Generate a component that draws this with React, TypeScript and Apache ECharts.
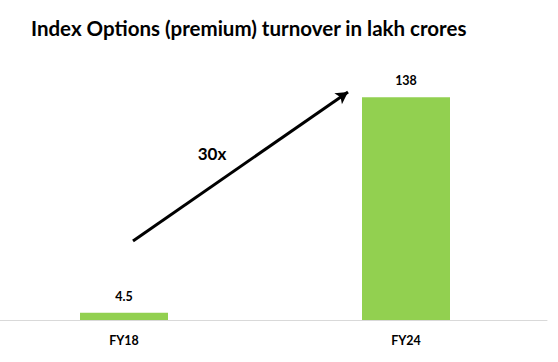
import React, { useEffect, useRef } from "react";
import * as echarts from "echarts";

const categories = ["FY18", "FY24"];
const turnover = [4.5, 138];
const titleText = "Index Options (premium) turnover in lakh crores";
const growthLabel = "30x";

const SHIFT = 17; // chart canvas starts 17px left of the page so the first category sits at x=124

export default function App() {
  const ref = useRef<HTMLDivElement>(null);
  useEffect(() => {
    if (!ref.current) return;
    const chart = echarts.init(ref.current, null, { renderer: "svg" });
    const font = "Lato, 'Open Sans', sans-serif";
    chart.setOption({
      animation: false,
      backgroundColor: "#ffffff",
      title: {
        text: titleText,
        left: 26 + SHIFT,
        top: 12,
        textStyle: { fontFamily: font, fontSize: 20.5, fontWeight: "bold", color: "#000" },
      },
      grid: { left: 0, right: 11, top: 78, bottom: 42 },
      xAxis: {
        type: "category",
        data: categories,
        axisLine: { show: true, lineStyle: { color: "#d9d9d9", width: 1 } },
        axisTick: { show: false },
        axisLabel: { margin: 14, fontFamily: font, fontSize: 12.5, fontWeight: "bold", color: "#000" },
      },
      yAxis: {
        type: "value",
        min: 0,
        max: 150,
        show: false,
        splitLine: { show: false },
      },
      series: [
        {
          type: "bar",
          data: turnover,
          barWidth: 88,
          itemStyle: { color: "#92D050" },
          label: {
            show: true,
            position: "top",
            distance: 10,
            fontFamily: font,
            fontSize: 12.5,
            fontWeight: "bold",
            color: "#000",
          },
          markLine: {
            silent: true,
            symbol: ["none", "arrow"],
            symbolSize: [10, 12],
            label: { show: false },
            lineStyle: { color: "#000", width: 3, type: "solid" },
            data: [[{ x: 133 + SHIFT, y: 241 }, { x: 348 + SHIFT, y: 92 }]],
          },
        },
      ],
      graphic: [
        {
          type: "text",
          x: 212 + SHIFT,
          y: 153,
          style: {
            text: growthLabel,
            fontFamily: font,
            fontSize: 17,
            fontWeight: "bold",
            fill: "#000",
            align: "center",
            verticalAlign: "middle",
          },
        },
      ],
    });
    return () => chart.dispose();
  }, []);
  return (
    <div style={{ position: "fixed", left: 0, top: 0, width: 558, height: 362, overflow: "hidden", background: "#fff" }}>
      <div
        ref={ref}
        style={{ position: "absolute", left: -SHIFT, top: 0, width: 558 + SHIFT, height: 362 }}
      />
    </div>
  );
}
